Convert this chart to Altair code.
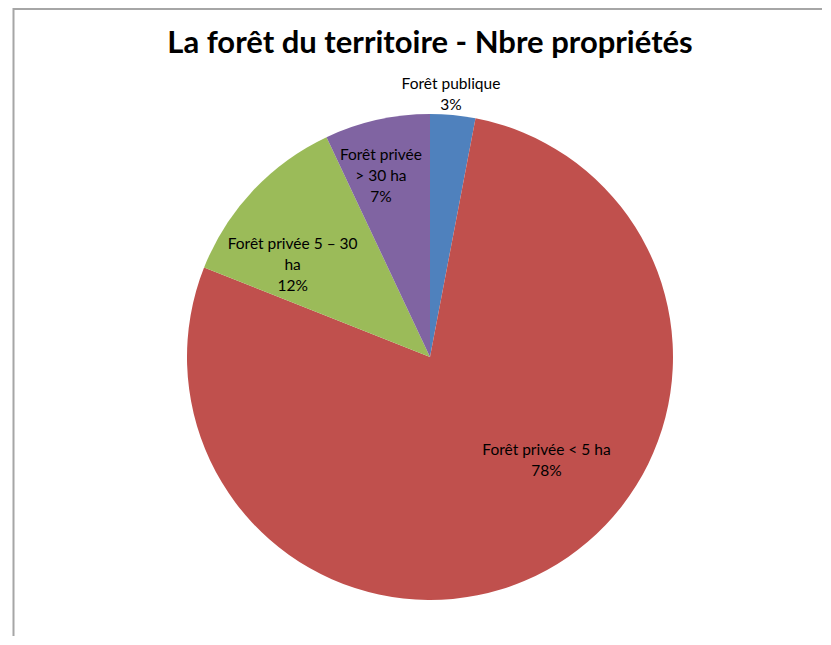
import math
import altair as alt
import pandas as pd

title_text = "La forêt du territoire - Nbre propriétés"
categories = ["Forêt publique", "Forêt privée < 5 ha", "Forêt privée 5 – 30 ha", "Forêt privée > 30 ha"]
values = [3, 78, 12, 7]
label_texts = ["Forêt publique\n3%", "Forêt privée  < 5 ha\n78%", "Forêt privée 5 – 30\nha\n12%", "Forêt privée\n> 30 ha\n7%"]
colors = ["#4F81BD", "#C0504D", "#9BBB59", "#8064A2"]

# label placement (angle in percent of the circle, radius in px) of each label's first line
label_angle = [1.22, 35.72, 85.97, 96.21]
label_radius = [274, 149, 178, 208]

W, H = 814, 628
CX, CY, R = 422, 349, 243

df = pd.DataFrame({"cat": categories, "value": values, "order": list(range(len(values)))})
lab = pd.DataFrame({"cat": categories, "text": label_texts, "ang": label_angle, "r": label_radius})

pie = alt.Chart(df).mark_arc(radius=R).encode(
    theta=alt.Theta("value:Q", stack=True),
    color=alt.Color("cat:N", scale=alt.Scale(domain=categories, range=colors), legend=None),
    order=alt.Order("order:Q"),
    x=alt.value(CX),
    y=alt.value(CY),
)

labels = alt.Chart(lab).mark_text(
    font="Lato", fontSize=15.5, lineBreak="\n", lineHeight=21, color="#000000",
    align="center", baseline="middle",
).encode(
    theta=alt.Theta("ang:Q", scale=alt.Scale(domain=[0, 100], range=[0, 2 * math.pi])),
    radius=alt.Radius("r:Q", scale=None),
    text="text:N",
    x=alt.value(CX),
    y=alt.value(CY),
)

title = alt.Chart(pd.DataFrame({"t": [title_text]})).mark_text(
    font="Lato", fontSize=31, fontWeight="bold", color="#000000", align="center", baseline="alphabetic"
).encode(text="t:N", x=alt.value(422), y=alt.value(45))

border_v = alt.Chart(pd.DataFrame({"a": [0]})).mark_rule(color="#a6a6a6", strokeWidth=2).encode(
    x=alt.value(5.5), y=alt.value(0), y2=alt.value(H + 20)
)
border_h = alt.Chart(pd.DataFrame({"a": [0]})).mark_rule(color="#a6a6a6", strokeWidth=2).encode(
    y=alt.value(1), x=alt.value(5.5), x2=alt.value(W + 20)
)

chart = alt.layer(border_v, border_h, pie, labels, title).resolve_scale(
    theta="independent"
).properties(
    width=W, height=H, autosize=alt.AutoSizeParams(type="none"), padding=0, background="white"
).configure_view(stroke=None)

chart.save("out.html", embed_options={"renderer": "svg", "actions": False})
